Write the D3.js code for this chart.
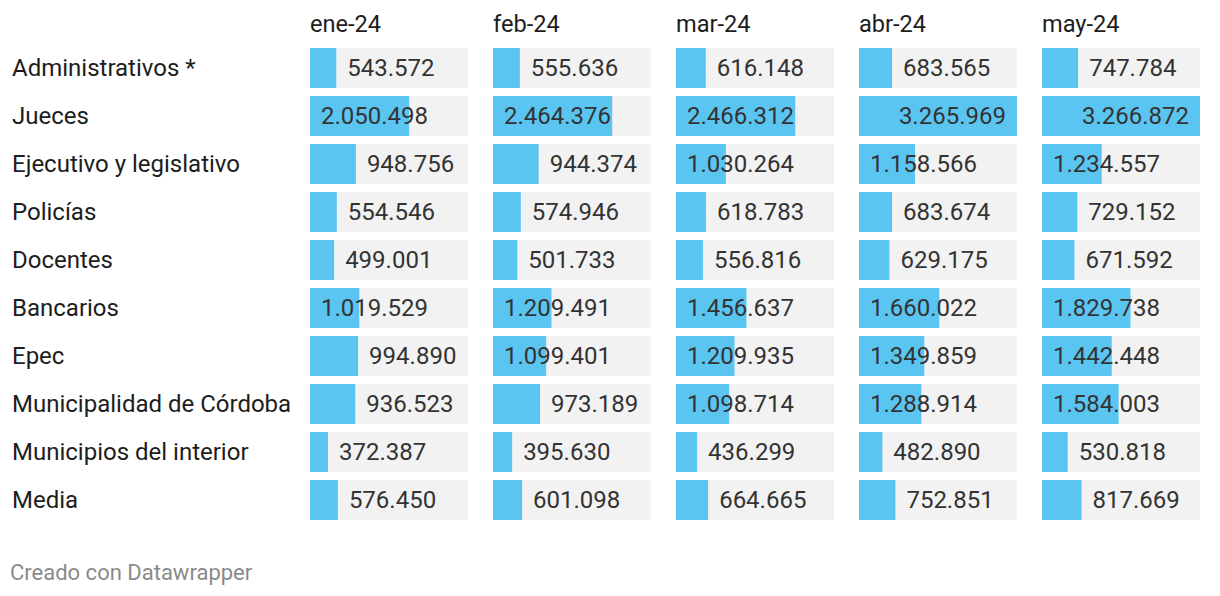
<!DOCTYPE html>
<html>
<head>
<meta charset="utf-8">
<script src="https://cdn.jsdelivr.net/npm/d3@7"></script>
<style>
  body { margin: 0; background: #fff; }
  svg text { font-family: Roboto, "Noto Sans", sans-serif; }
</style>
</head>
<body>
<div id="chart"></div>
<script>
// months (columns) and groups (rows)
const months = ["ene-24", "feb-24", "mar-24", "abr-24", "may-24"];
const groups = ["Administrativos *", "Jueces", "Ejecutivo y legislativo", "Policías", "Docentes",
    "Bancarios", "Epec", "Municipalidad de Córdoba", "Municipios del interior", "Media"];

// salary per group, one value per month
const administrativos = [543572, 555636, 616148, 683565, 747784];
const jueces = [2050498, 2464376, 2466312, 3265969, 3266872];
const ejecutivo = [948756, 944374, 1030264, 1158566, 1234557];
const policias = [554546, 574946, 618783, 683674, 729152];
const docentes = [499001, 501733, 556816, 629175, 671592];
const bancarios = [1019529, 1209491, 1456637, 1660022, 1829738];
const epec = [994890, 1099401, 1209935, 1349859, 1442448];
const municipalidad = [936523, 973189, 1098714, 1288914, 1584003];
const municipios = [372387, 395630, 436299, 482890, 530818];
const media = [576450, 601098, 664665, 752851, 817669];

const values = [administrativos, jueces, ejecutivo, policias, docentes,
    bancarios, epec, municipalidad, municipios, media];

const width = 1220, height = 596;
const colX0 = 310, colStep = 183, colW = 158;
const rowY0 = 48, rowStep = 48, rowH = 40;
const pad = 11;

const locale = d3.formatLocale({ decimal: ",", thousands: ".", grouping: [3], currency: ["$", ""] });
const fmt = locale.format(",d");

const svg = d3.select("#chart").append("svg")
    .attr("width", width)
    .attr("height", height);

const x = d3.scaleLinear()
    .domain([0, d3.max(values.flat())])
    .range([0, colW]);

// column headers
svg.append("g")
    .selectAll("text")
    .data(months)
    .join("text")
    .attr("x", (d, i) => colX0 + i * colStep)
    .attr("y", 32)
    .attr("font-size", 23.6)
    .attr("fill", "#1d1d1d")
    .text(d => d);

// row labels
svg.append("g")
    .selectAll("text")
    .data(groups)
    .join("text")
    .attr("x", 12)
    .attr("y", (d, i) => rowY0 + i * rowStep + rowH / 2)
    .attr("dy", "0.35em")
    .attr("font-size", 24)
    .attr("fill", "#1d1d1d")
    .text(d => d);

const cells = [];
values.forEach((row, r) => row.forEach((v, c) => cells.push({ r, c, v })));

const cell = svg.append("g")
    .selectAll("g")
    .data(cells)
    .join("g")
    .attr("transform", d => `translate(${colX0 + d.c * colStep},${rowY0 + d.r * rowStep})`);

cell.append("rect")
    .attr("width", colW)
    .attr("height", rowH)
    .attr("fill", "#f2f2f2");

cell.append("rect")
    .attr("width", d => x(d.v))
    .attr("height", rowH)
    .attr("fill", "#5bc5f2");

cell.append("text")
    .attr("y", rowH / 2)
    .attr("dy", "0.35em")
    .attr("font-size", 24)
    .attr("fill", "#333")
    .text(d => fmt(d.v))
    .attr("x", function (d) {
        const tw = this.getComputedTextLength();
        const end = x(d.v);
        if (end + pad + tw <= colW - 2) return end + pad;
        return Math.max(pad, end - pad - tw);
    });

// footer
svg.append("text")
    .attr("x", 10)
    .attr("y", 580)
    .attr("font-size", 22)
    .attr("fill", "#8a8a8a")
    .text("Creado con Datawrapper");
</script>
</body>
</html>
